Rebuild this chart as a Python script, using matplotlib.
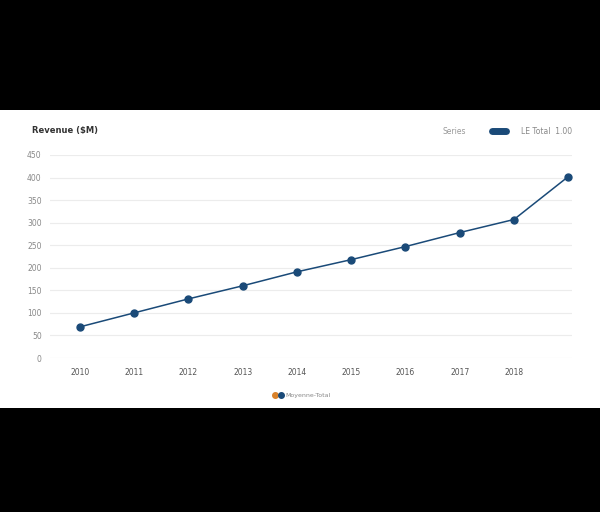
import matplotlib.pyplot as plt
from matplotlib.patches import Rectangle
import numpy as np

# data
categories = ['2010', '2011', '2012', '2013', '2014', '2015', '2016', '2017', '2018', '2019']
tick_labels = ['2010', '2011', '2012', '2013', '2014', '2015', '2016', '2017', '2018', '']
values = [69, 100, 131, 160, 191, 218, 247, 278, 307, 402]
y_ticks = [0, 50, 100, 150, 200, 250, 300, 350, 400, 450]

line_colour = '#1a4a78'

fig = plt.figure(figsize=(6, 5.12), dpi=100)
fig.patch.set_facecolor('black')

# white card in the middle of the black frame
fig.add_artist(Rectangle((0, 1 - 408 / 512), 1, (408 - 110) / 512,
                         transform=fig.transFigure, facecolor='white',
                         edgecolor='none', zorder=0))

ax = fig.add_axes([50 / 600, 1 - 358 / 512, (572 - 50) / 600, (358 - 155) / 512])
ax.set_facecolor('none')

x = np.arange(len(categories))
ax.plot(x, values, color=line_colour, lw=1.1, marker='o', markersize=5, zorder=3)

ax.set_xlim(-0.55, 9.07)
ax.set_ylim(0, 450)
ax.set_yticks(y_ticks)
ax.set_yticklabels([str(t) for t in y_ticks])
ax.set_xticks(x)
ax.set_xticklabels(tick_labels)

ax.grid(axis='y', color='#ececec', lw=0.8)
ax.set_axisbelow(True)
for spn in ax.spines:
    ax.spines[spn].set_visible(False)
ax.tick_params(axis='both', length=0, labelsize=5.5)
ax.tick_params(axis='y', colors='#888888', pad=6)
ax.tick_params(axis='x', colors='#555555', pad=7)

# header
fig.text(32 / 600, 1 - 131 / 512, 'Revenue ($M)', fontsize=6, fontweight='bold',
         color='#333333', va='center', ha='left')
fig.text(466 / 600, 1 - 131 / 512, 'Series', fontsize=5.5, color='#999999',
         va='center', ha='right')
fig.add_artist(plt.Line2D([492 / 600, 506 / 600], [1 - 131 / 512] * 2,
                          transform=fig.transFigure, color=line_colour, lw=5,
                          solid_capstyle='round'))
fig.text(521 / 600, 1 - 131 / 512, 'LE Total  1.00', fontsize=5.5, color='#888888',
         va='center', ha='left')

# bottom legend
fig.add_artist(plt.Line2D([275 / 600], [1 - 395 / 512], transform=fig.transFigure,
                          marker='o', markersize=4, color='#d9822b', lw=0))
fig.add_artist(plt.Line2D([281 / 600], [1 - 395 / 512], transform=fig.transFigure,
                          marker='o', markersize=4, color=line_colour, lw=0))
fig.text(285 / 600, 1 - 395 / 512, 'Moyenne-Total', fontsize=4.5, color='#888888',
         va='center', ha='left')

fig.savefig('out.png', dpi=100, facecolor='black')
